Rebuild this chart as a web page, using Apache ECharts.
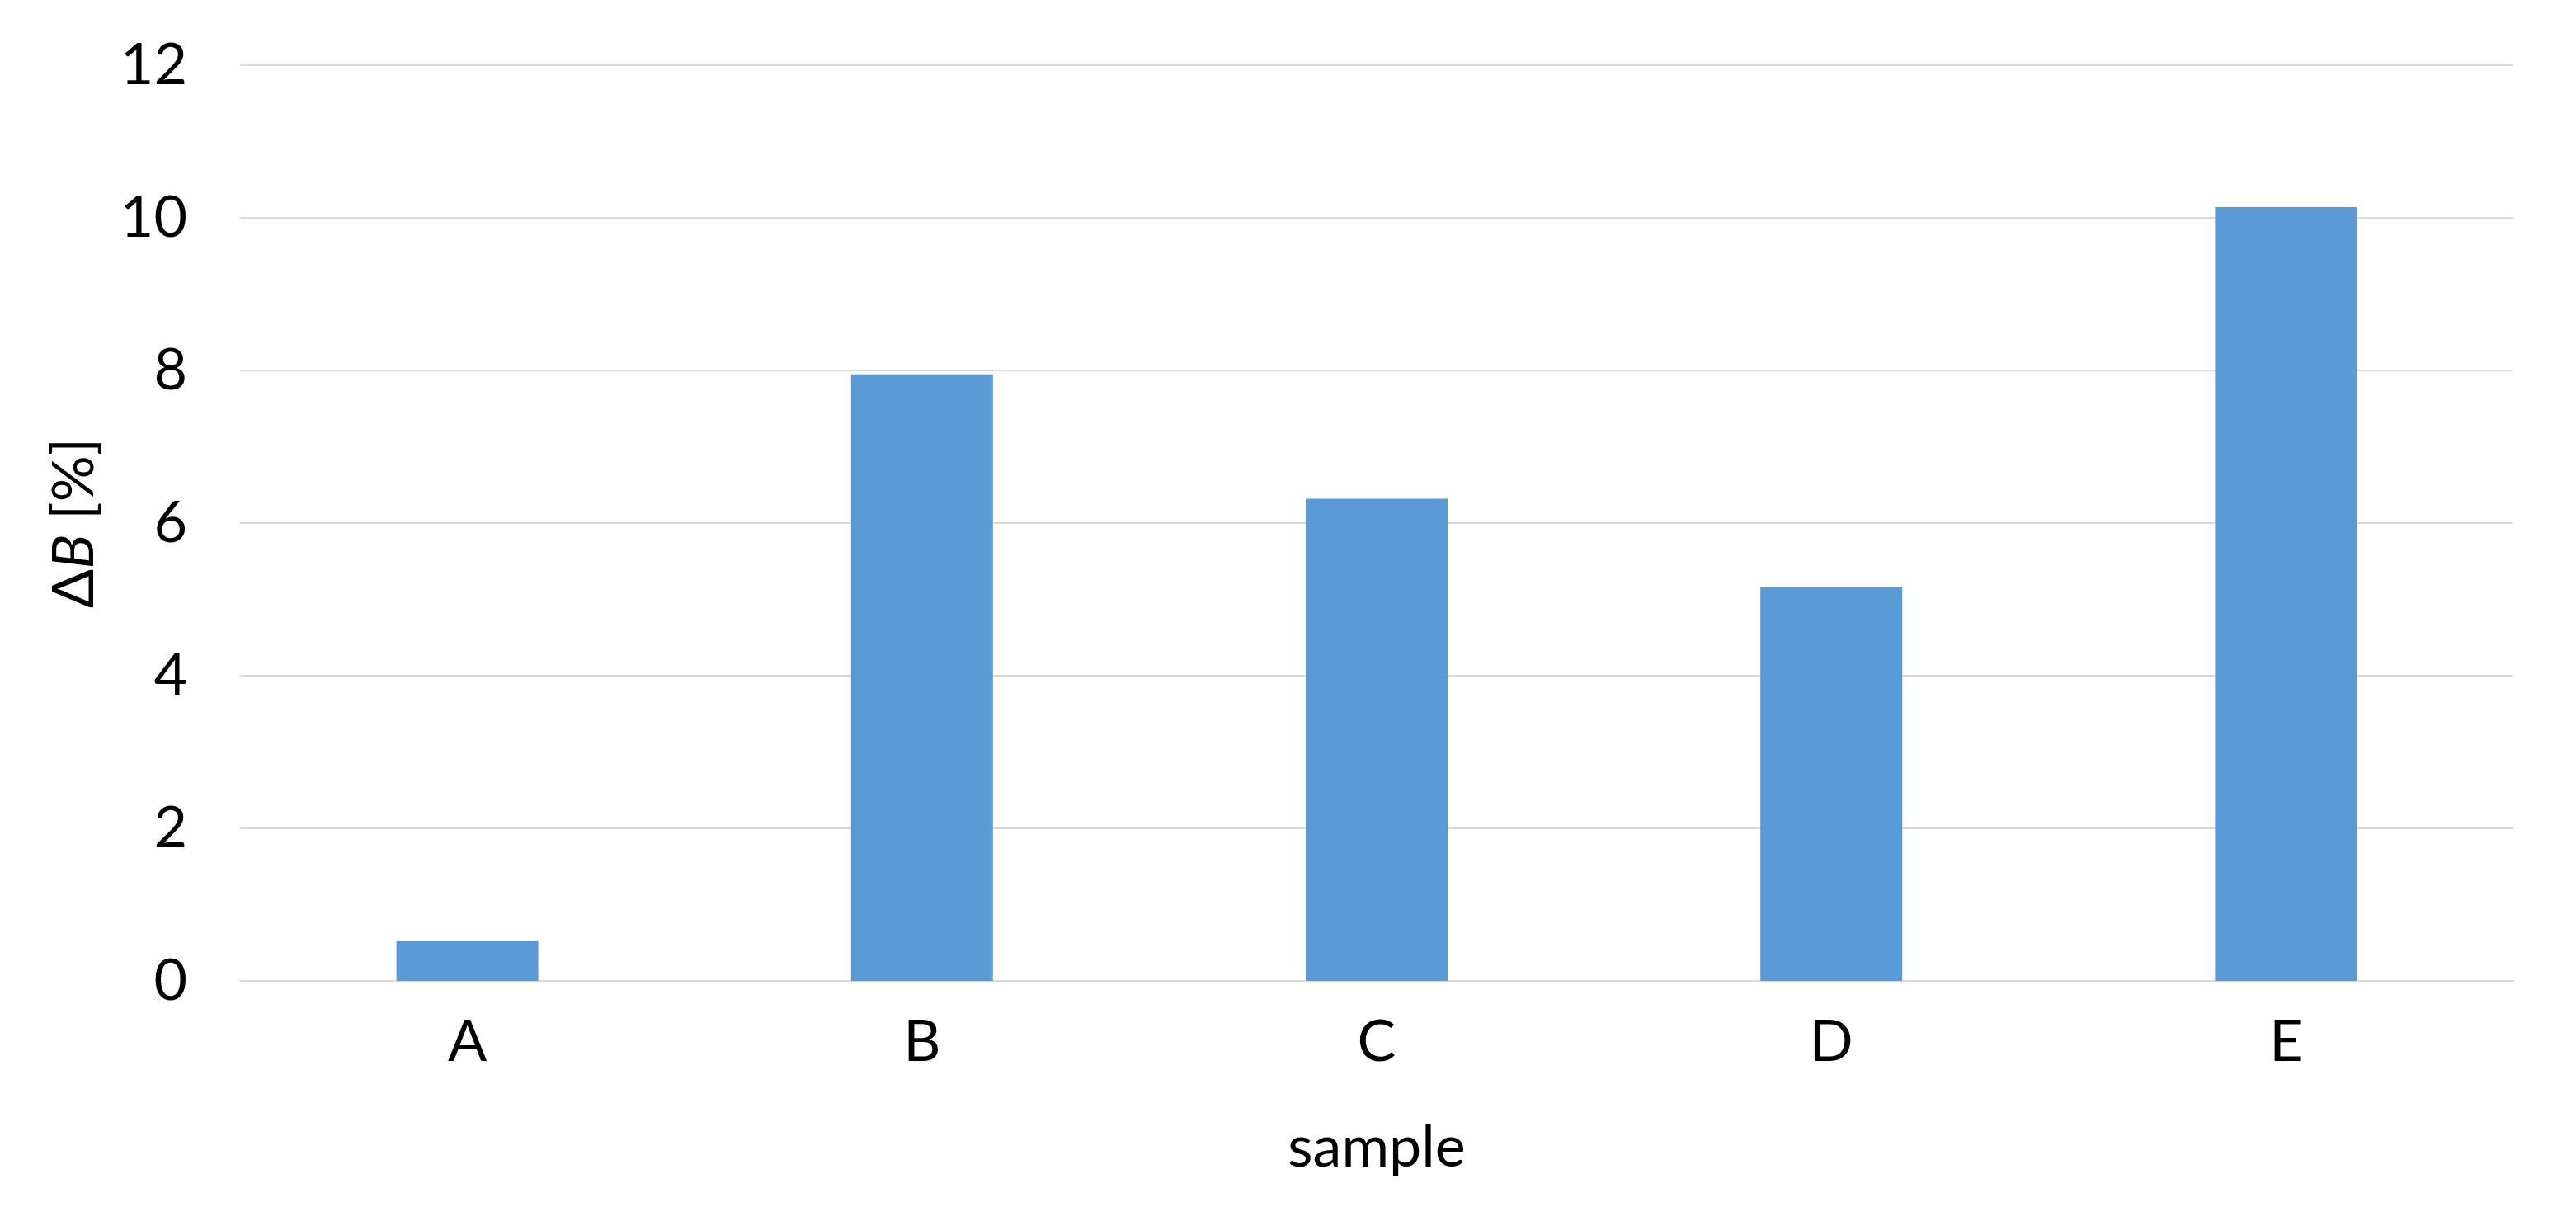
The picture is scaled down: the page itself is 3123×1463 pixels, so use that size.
<!DOCTYPE html>
<html>
<head>
<meta charset="utf-8">
<style>
html,body{margin:0;padding:0;background:#fff;}
#chart{width:3123px;height:1463px;}
</style>
<script src="https://cdn.jsdelivr.net/npm/echarts@6/dist/echarts.min.js"></script>
</head>
<body>
<div id="chart"></div>
<script>
const categories = ['A', 'B', 'C', 'D', 'E'];
const deltaB = [0.53, 7.95, 6.32, 5.16, 10.14];
const yTicks = { min: 0, max: 12, interval: 2 };
const xName = 'sample';

const FONT = 'Lato';
const chart = echarts.init(document.getElementById('chart'), null, { renderer: 'canvas' });
chart.setOption({
  backgroundColor: '#ffffff',
  animation: false,
  textStyle: { fontFamily: FONT },
  grid: { left: 291, right: 76, top: 79, bottom: 274, containLabel: false },
  xAxis: {
    type: 'category',
    data: categories,
    name: xName,
    nameLocation: 'middle',
    nameGap: 167,
    nameTextStyle: { fontFamily: FONT, fontSize: 70, color: '#000' },
    axisLine: { show: true, lineStyle: { color: '#d9d9d9', width: 2 } },
    axisTick: { show: false },
    axisLabel: { margin: 39, fontFamily: FONT, fontSize: 70, color: '#000' }
  },
  yAxis: {
    type: 'value',
    min: yTicks.min,
    max: yTicks.max,
    interval: yTicks.interval,
    name: '{n|Δ}{i|B}{n| [%]}',
    nameLocation: 'middle',
    nameGap: 166,
    nameTextStyle: {
      fontFamily: FONT, fontSize: 70, color: '#000',
      rich: {
        n: { fontFamily: FONT, fontSize: 70, color: '#000' },
        i: { fontFamily: FONT, fontSize: 70, color: '#000', fontStyle: 'italic' }
      }
    },
    axisLine: { show: false },
    axisTick: { show: false },
    splitLine: { show: true, lineStyle: { color: '#d9d9d9', width: 2 } },
    axisLabel: { margin: 64, fontFamily: FONT, fontSize: 70, color: '#000' }
  },
  series: [{
    type: 'bar',
    data: deltaB,
    barWidth: 172,
    itemStyle: { color: '#5b9bd5' }
  }]
});
</script>
</body>
</html>
